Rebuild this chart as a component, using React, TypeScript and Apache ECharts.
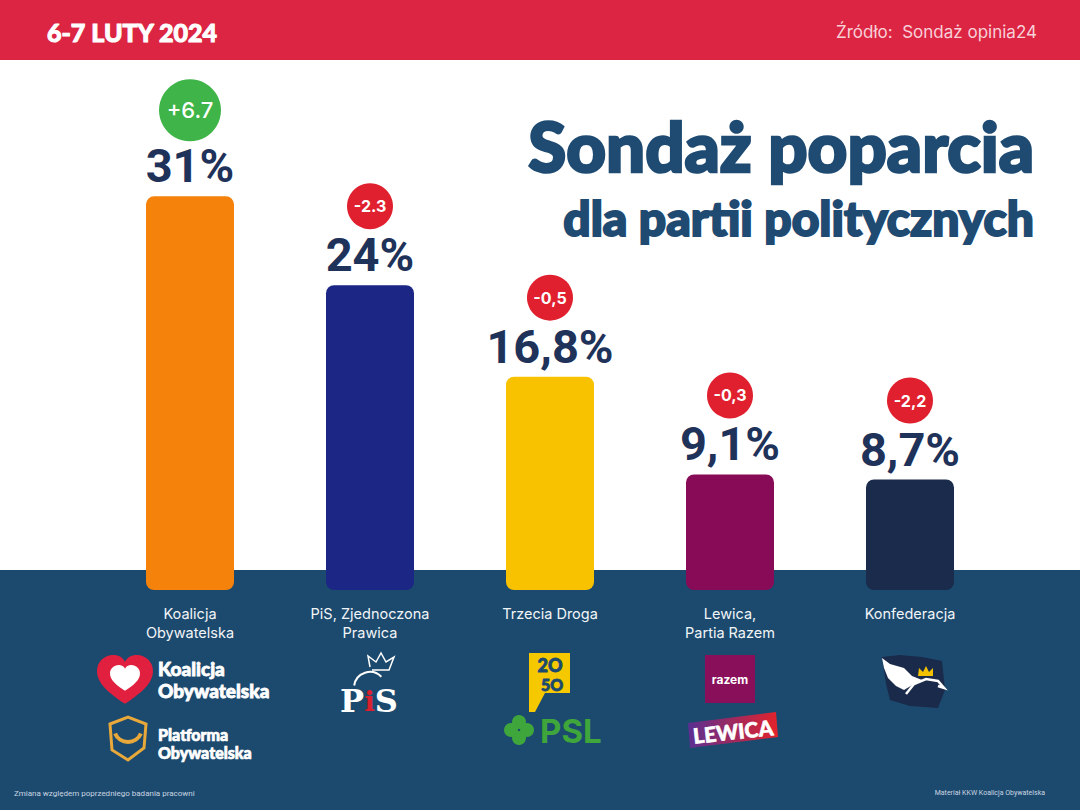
import React, { useEffect, useRef } from "react";
import * as echarts from "echarts";

const categories = [
  "Koalicja\nObywatelska",
  "PiS, Zjednoczona\nPrawica",
  "Trzecia Droga",
  "Lewica,\nPartia Razem",
  "Konfederacja",
];
const values = [31, 24, 16.8, 9.1, 8.7];
const changes = ["+6.7", "-2.3", "-0,5", "-0,3", "-2,2"];
const barColors = ["#f5820b", "#1b2685", "#f9c200", "#870b57", "#1b2b4b"];

const heartPath =
  "M50 92 C22 72 0 54 0 30 C0 13 13 0 29 0 C39 0 46 5 50 13 C54 5 61 0 71 0 C87 0 100 13 100 30 C100 54 78 72 50 92 Z";
echarts.graphic.registerShape("heart", echarts.graphic.extendPath(heartPath, {}));

const NAVY = "#1f3259";
const TITLE = "#1f4b72";
const BAND = "#1c4a6e";

export default function App() {
  const ref = useRef<HTMLDivElement>(null);
  useEffect(() => {
    if (!ref.current) return;
    const chart = echarts.init(ref.current, undefined, { renderer: "svg" });
    const heavy = (t: string, x: number, y: number, size: number, fill: string, align: string, sw: number) => ({
      type: "text", x, y,
      style: { text: t, fill, font: `900 ${size}px Lato`, align, verticalAlign: "middle", stroke: fill, lineWidth: sw },
    });
    const option: any = {
      animation: false,
      backgroundColor: "#ffffff",
      grid: { left: 100, right: 80, top: 82, bottom: 220, containLabel: false },
      xAxis: {
        type: "category",
        data: categories,
        axisLine: { show: false },
        axisTick: { show: false },
        axisLabel: {
          color: "#f2f5f8",
          fontFamily: "Inter",
          fontSize: 14.5,
          lineHeight: 19,
          margin: 14,
        },
      },
      yAxis: { type: "value", min: 0, max: 40, show: false, splitLine: { show: false } },
      graphic: [
        { type: "rect", z: -10, shape: { x: 0, y: 0, width: 1080, height: 60 }, style: { fill: "#dc2543" } },
        { type: "rect", z: -10, shape: { x: 0, y: 570, width: 1080, height: 240 }, style: { fill: BAND } },
        {
          type: "text", x: 47, y: 32,
          style: { text: "6-7 LUTY 2024", fill: "#ffffff", font: "900 25px Lato", align: "left", verticalAlign: "middle",
            stroke: "#ffffff", lineWidth: 1,
            shadowColor: "rgba(0,0,0,0.3)", shadowOffsetX: 1, shadowOffsetY: 1, shadowBlur: 2 },
        },
        {
          type: "text", x: 1037, y: 32,
          style: { text: "Źródło:  Sondaż opinia24", fill: "#f8d0d8", font: "400 17px Inter", align: "right", verticalAlign: "middle" },
        },
        heavy("Sondaż poparcia", 1034, 145, 69, TITLE, "right", 2.5),
        heavy("dla partii politycznych", 1034, 217, 48, TITLE, "right", 2),
        {
          type: "text", x: 14, y: 793,
          style: { text: "Zmiana względem poprzedniego badania pracowni", fill: "#c9d5e2", font: "400 8px Roboto", align: "left", verticalAlign: "middle" },
        },
        {
          type: "text", x: 1045, y: 793,
          style: { text: "Materiał KKW Koalicja Obywatelska", fill: "#c9d5e2", font: "400 7px Roboto", align: "right", verticalAlign: "middle" },
        },
        // KO logo
        { type: "heart", x: 97, y: 655, scaleX: 0.56, scaleY: 0.53, style: { fill: "#e0203e" } },
        { type: "heart", x: 110, y: 665, scaleX: 0.3, scaleY: 0.28, style: { fill: "#ffffff" } },
        heavy("Koalicja", 158, 668, 19, "#ffffff", "left", 0.8),
        heavy("Obywatelska", 158, 690, 19, "#ffffff", "left", 0.8),
        // PO logo
        {
          type: "polygon",
          shape: { points: [[110, 724], [128, 717], [146, 724], [144, 748], [128, 760], [112, 750]] },
          style: { fill: "none", stroke: "#e9a83a", lineWidth: 3 },
        },
        { type: "arc", shape: { cx: 128, cy: 728, r: 14, startAngle: 0.4, endAngle: Math.PI - 0.4 }, style: { stroke: "#e9a83a", lineWidth: 4, fill: "none" } },
        heavy("Platforma", 158, 734, 16, "#ffffff", "left", 0.7),
        heavy("Obywatelska", 158, 752, 16, "#ffffff", "left", 0.7),
        // PiS logo
        {
          type: "polyline",
          shape: { points: [[370, 667], [368, 656], [376, 662], [381, 653], [386, 662], [394, 657], [389, 670], [372, 670]] },
          style: { stroke: "#ffffff", lineWidth: 1.5, fill: "none" },
        },
        { type: "arc", shape: { cx: 370, cy: 688, r: 16, startAngle: Math.PI * 1.05, endAngle: Math.PI * 1.75 }, style: { stroke: "#ffffff", lineWidth: 2, fill: "none" } },
        {
          type: "text", x: 369, y: 701,
          style: {
            text: "{w|P}{r|i}{w|S}", align: "center", verticalAlign: "middle",
            rich: {
              w: { fill: "#ffffff", font: "700 32px 'DejaVu Serif'" },
              r: { fill: "#d9202f", font: "700 28px 'DejaVu Serif'" },
            },
          },
        },
        // 2050 logo
        {
          type: "polygon",
          shape: { points: [[529, 653], [570, 653], [570, 693], [545, 693], [535, 712], [529, 712]] },
          style: { fill: "#f6c800" },
        },
        heavy("2O", 550, 665, 18, BAND, "center", 0.8),
        heavy("5O", 552, 684, 16, BAND, "center", 0.8),
        // PSL
        { type: "circle", shape: { cx: 519, cy: 722, r: 7 }, style: { fill: "#3fa63c" } },
        { type: "circle", shape: { cx: 519, cy: 738, r: 7 }, style: { fill: "#3fa63c" } },
        { type: "circle", shape: { cx: 511, cy: 730, r: 7 }, style: { fill: "#3fa63c" } },
        { type: "circle", shape: { cx: 527, cy: 730, r: 7 }, style: { fill: "#3fa63c" } },
        { type: "text", x: 540, y: 731, style: { text: "PSL", fill: "#3fa63c", font: "700 33px Inter", align: "left", verticalAlign: "middle" } },
        // razem
        { type: "rect", shape: { x: 705, y: 655, width: 50, height: 48 }, style: { fill: "#8a0f5b" } },
        { type: "text", x: 730, y: 679, style: { text: "razem", fill: "#ffffff", font: "700 12px Inter", align: "center", verticalAlign: "middle" } },
        // LEWICA
        {
          type: "polygon",
          shape: { points: [[688, 723], [776, 712], [778, 737], [690, 748]] },
          style: {
            fill: new echarts.graphic.LinearGradient(0, 0, 1, 0, [
              { offset: 0, color: "#5a2f92" },
              { offset: 1, color: "#e3232b" },
            ]),
          },
        },
        {
          type: "text", x: 733, y: 731, rotation: 0.11,
          style: { text: "LEWICA", fill: "#ffffff", font: "900 21px Lato", align: "center", verticalAlign: "middle", stroke: "#ffffff", lineWidth: 0.6 },
        },
        // Konfederacja
        {
          type: "polygon",
          shape: { points: [[882, 657], [900, 655], [922, 657], [942, 661], [945, 690], [938, 708], [910, 706], [890, 700], [886, 684]] },
          style: { fill: "#1a2a4a" },
        },
        {
          type: "polygon",
          shape: { points: [[882, 658], [890, 664], [904, 668], [912, 676], [922, 680], [914, 684], [904, 690], [896, 686], [888, 678], [884, 668]] },
          style: { fill: "#ffffff" },
        },
        {
          type: "polyline",
          shape: { points: [[906, 694], [914, 684], [926, 679], [938, 681], [944, 688], [938, 686]] },
          style: { stroke: "#ffffff", lineWidth: 2.5, fill: "none" },
        },
        {
          type: "polygon",
          shape: { points: [[918, 676], [919, 668], [923, 672], [926, 666], [929, 672], [933, 668], [933, 676]] },
          style: { fill: "#f2c200" },
        },
      ],
      series: [
        {
          type: "bar",
          data: values.map((v, i) => ({ value: v, itemStyle: { color: barColors[i] } })),
          barWidth: 88,
          itemStyle: { borderRadius: 8 },
          z: 3,
          label: {
            show: true,
            position: "top",
            distance: 7,
            color: NAVY,
            fontFamily: "Roboto",
            fontWeight: 700,
            fontSize: 47,
            formatter: (p: any) => String(p.value).replace(".", ",") + "%",
          },
        },
        {
          type: "custom",
          coordinateSystem: "cartesian2d",
          z: 4,
          data: values.map((v, i) => [i, v]),
          encode: { x: 0, y: 1 },
          renderItem: (params: any, api: any) => {
            const i = api.value(0);
            const pt = api.coord([i, api.value(1)]);
            const txt = changes[i];
            const pos = txt.startsWith("+");
            const r = pos ? 31 : 23;
            const off = pos ? 86 : 79;
            return {
              type: "group",
              children: [
                { type: "circle", shape: { cx: pt[0], cy: pt[1] - off, r }, style: { fill: pos ? "#3fb549" : "#e0202e" } },
                {
                  type: "text",
                  style: {
                    text: txt, x: pt[0], y: pt[1] - off,
                    align: "center", verticalAlign: "middle",
                    fill: "#ffffff",
                    font: pos ? "500 22px Inter" : "700 16px Inter",
                  },
                },
              ],
            };
          },
        },
      ],
    };
    chart.setOption(option);
    return () => chart.dispose();
  }, []);
  return <div ref={ref} style={{ position: "fixed", left: 0, top: 0, width: 1080, height: 810 }} />;
}
